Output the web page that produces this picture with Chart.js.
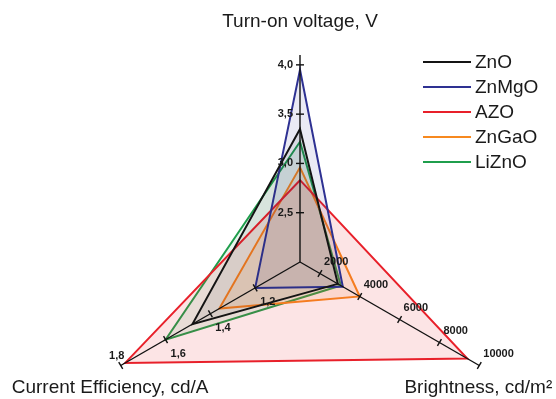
<!DOCTYPE html>
<html>
<head>
<meta charset="utf-8">
<script src="https://cdn.jsdelivr.net/npm/chart.js@4.4.1/dist/chart.umd.min.js"></script>
<style>
  html, body { margin: 0; padding: 0; background: #ffffff; overflow: hidden; }
  #wrap { width: 556px; height: 399px; overflow: hidden; }
  #c { display: block; }
</style>
</head>
<body>
<div id="wrap"><canvas id="c" width="556" height="470"></canvas></div>
<script>
// Axis titles (clockwise from the top)
const axisTitles = ['Turn-on voltage, V', 'Brightness, cd/m\u00B2', 'Current Efficiency, cd/A'];

// Axis ranges: centre value and outer end of each axis
const voltageRange = [2.0, 4.1];
const brightnessRange = [1000, 10000];
const efficiencyRange = [1.0, 1.8];

// Tick values and their printed labels
const voltageTicks = [2.5, 3.0, 3.5, 4.0];
const voltageTickLabels = ['2,5', '3,0', '3,5', '4,0'];
const brightnessTicks = [2000, 4000, 6000, 8000, 10000];
const brightnessTickLabels = ['2000', '4000', '6000', '8000', '10000'];
const efficiencyTicks = [1.2, 1.4, 1.6, 1.8];
const efficiencyTickLabels = ['1,2', '1,4', '1,6', '1,8'];

// Series
const seriesNames = ['ZnO', 'ZnMgO', 'AZO', 'ZnGaO', 'LiZnO'];
const turnOnVoltage = [3.35, 3.95, 2.83, 2.96, 3.22];
const brightness = [2900, 3150, 9400, 4000, 3050];
const currentEfficiency = [1.48, 1.20, 1.78, 1.36, 1.60];

const lineColors = ['#141414', '#2e3192', '#e8202a', '#f7891f', '#1f9e4c'];
const fillColors = [
  'rgba(20,20,20,0.08)',
  'rgba(46,49,146,0.10)',
  'rgba(232,32,42,0.12)',
  'rgba(247,137,31,0.12)',
  'rgba(31,158,76,0.10)'
];

const ranges = [voltageRange, brightnessRange, efficiencyRange];
const norm = (v, axis) => (v - ranges[axis][0]) / (ranges[axis][1] - ranges[axis][0]);

const datasets = seriesNames.map((name, i) => ({
  label: name,
  data: [norm(turnOnVoltage[i], 0), norm(brightness[i], 1), norm(currentEfficiency[i], 2)],
  borderColor: lineColors[i],
  backgroundColor: fillColors[i],
  borderWidth: 2,
  fill: true,
  pointRadius: 0,
  pointHoverRadius: 0,
  tension: 0
}));

const FONT = '"Liberation Sans", Arial, sans-serif';

// Axis lines, tick marks, tick labels, axis titles and legend
const decorations = {
  id: 'decorations',
  afterDatasetsDraw(chart) {
    const s = chart.scales.r;
    const ctx = chart.ctx;
    const tickSets = [
      [voltageTicks, voltageTickLabels],
      [brightnessTicks, brightnessTickLabels],
      [efficiencyTicks, efficiencyTickLabels]
    ];
    ctx.save();
    ctx.strokeStyle = '#111';
    ctx.lineWidth = 1.4;
    ctx.fillStyle = '#1a1a1a';
    ctx.font = 'bold 11px ' + FONT;

    for (let i = 0; i < 3; i++) {
      const p0 = s.getPointPositionForValue(i, 0);
      const p1 = s.getPointPositionForValue(i, 1);
      ctx.beginPath();
      ctx.moveTo(p0.x, p0.y);
      ctx.lineTo(p1.x, p1.y);
      ctx.stroke();

      const ang = s.getIndexAngle(i) - Math.PI / 2;
      const nx = -Math.sin(ang), ny = Math.cos(ang);
      const [ticks, labels] = tickSets[i];
      ticks.forEach((t, k) => {
        const p = s.getPointPositionForValue(i, norm(t, i));
        ctx.beginPath();
        ctx.moveTo(p.x - nx * 4, p.y - ny * 4);
        ctx.lineTo(p.x + nx * 4, p.y + ny * 4);
        ctx.stroke();
        ctx.textBaseline = 'middle';
        if (i === 0) {
          ctx.textAlign = 'right';
          ctx.fillText(labels[k], p.x - 7, p.y);
        } else if (i === 1) {
          ctx.textAlign = 'left';
          ctx.fillText(labels[k], p.x + 4, p.y - 12);
        } else if (k === ticks.length - 1) {
          ctx.textAlign = 'center';
          ctx.fillText(labels[k], p.x - 4, p.y - 10);
        } else {
          ctx.textAlign = 'left';
          ctx.fillText(labels[k], p.x + 5, p.y + 14);
        }
      });
    }

    // axis titles
    ctx.font = '19px ' + FONT;
    ctx.fillStyle = '#1a1a1a';
    ctx.textBaseline = 'middle';
    const top = s.getPointPositionForValue(0, 1);
    ctx.textAlign = 'center';
    ctx.fillText(axisTitles[0], top.x, top.y - 33);
    const right = s.getPointPositionForValue(1, 1);
    ctx.textAlign = 'right';
    ctx.fillText(axisTitles[1], right.x + 73, right.y + 22);
    const left = s.getPointPositionForValue(2, 1);
    ctx.textAlign = 'left';
    ctx.fillText(axisTitles[2], left.x - 109, left.y + 22);

    // legend
    const lx = 423, ly = 62, step = 25;
    seriesNames.forEach((name, i) => {
      const y = ly + i * step;
      ctx.strokeStyle = lineColors[i];
      ctx.lineWidth = 2;
      ctx.beginPath();
      ctx.moveTo(lx, y);
      ctx.lineTo(lx + 48, y);
      ctx.stroke();
      ctx.textAlign = 'left';
      ctx.fillText(name, lx + 52, y + 1);
    });
    ctx.restore();
  }
};

new Chart(document.getElementById('c'), {
  type: 'radar',
  data: { labels: axisTitles, datasets },
  options: {
    responsive: false,
    devicePixelRatio: 1,
    animation: false,
    events: [],
    layout: { padding: { left: 93, right: 49, top: 55, bottom: 1 } },
    elements: { line: { borderJoinStyle: 'miter' } },
    plugins: { legend: { display: false }, tooltip: { enabled: false } },
    scales: {
      r: {
        min: 0,
        max: 1,
        ticks: { display: false },
        grid: { display: false },
        angleLines: { display: false },
        pointLabels: { display: false }
      }
    }
  },
  plugins: [decorations]
});
</script>
</body>
</html>
